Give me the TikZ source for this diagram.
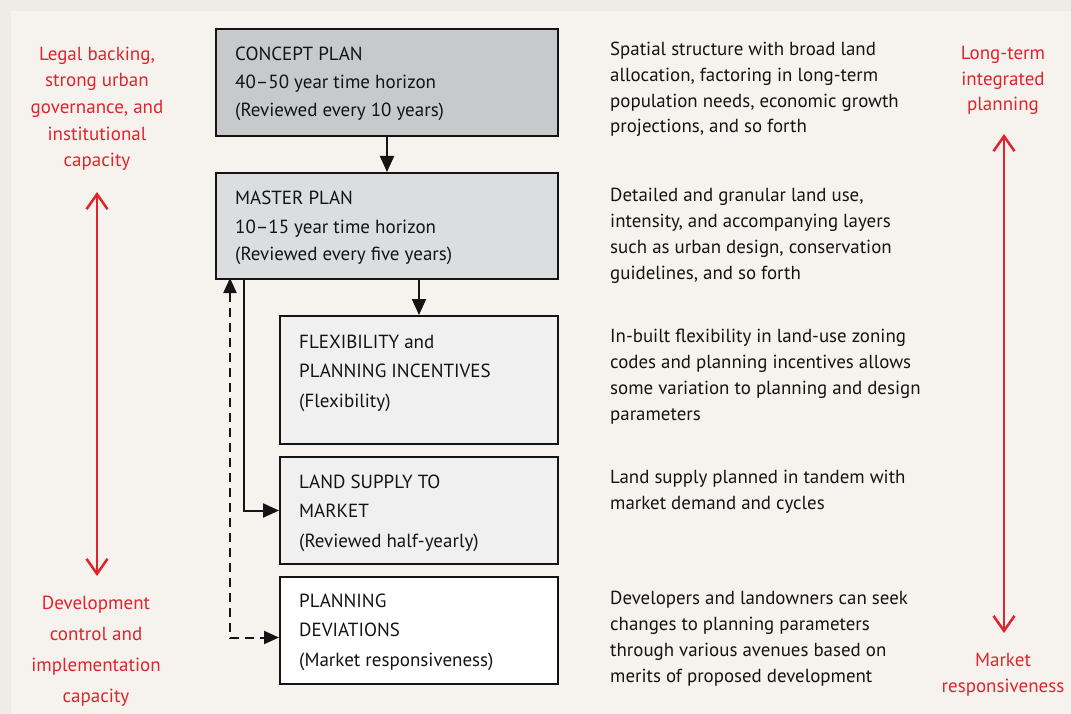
\documentclass[tikz,border=0pt]{standalone}
\usepackage{fontspec}
\setmainfont{PT Sans}
\usetikzlibrary{arrows.meta}
\definecolor{bgout}{HTML}{EFEBE7}
\definecolor{bgin}{HTML}{F6F3EF}
\definecolor{redc}{HTML}{E1232B}
\definecolor{txt}{HTML}{141414}
\definecolor{fillA}{HTML}{C8C9CB}
\definecolor{fillB}{HTML}{DCDDDF}
\definecolor{fillC}{HTML}{F0F0F0}
\begin{document}
\begin{tikzpicture}[x=1pt,y=-1pt,
  box/.style={draw=txt, line width=2pt, inner sep=0pt, anchor=north west},
  boxtext/.style={anchor=base west, align=left, inner sep=0pt, text=txt, font=\fontsize{19}{28}\selectfont},
  boxtextb/.style={boxtext, font=\fontsize{19}{29.5}\selectfont},
  desc/.style={anchor=base west, align=left, inner sep=0pt, text=txt, font=\fontsize{18.9}{25.7}\selectfont},
  redtext/.style={anchor=base, align=center, inner sep=0pt, text=redc, font=\fontsize{19}{26.7}\selectfont},
  conn/.style={draw=txt, line width=2pt, -{Triangle[length=16pt,width=14pt]}},
  dconn/.style={draw=txt, line width=2pt, dash pattern=on 9pt off 6pt, {Triangle[length=15pt,width=13pt]}-{Triangle[length=15pt,width=13pt]}},
  redarr/.style={draw=redc, line width=2.5pt, {Straight Barb[length=15pt,width=21pt]}-{Straight Barb[length=15pt,width=21pt]}}
]
\fill[bgout] (0,0) rectangle (1071,714);
\fill[bgin] (11,11) rectangle (1071,714);
\useasboundingbox (0,0) rectangle (1071,714);

% boxes
\node[box, fill=fillA, minimum width=342pt, minimum height=107pt] (concept) at (215,28) {};
\node[box, fill=fillB, minimum width=342pt, minimum height=106pt] (master) at (215,172) {};
\node[box, fill=fillC, minimum width=278pt, minimum height=128pt] (flex) at (279,315) {};
\node[box, fill=fillC, minimum width=278pt, minimum height=107pt] (land) at (279,456) {};
\node[box, fill=white, minimum width=278pt, minimum height=107pt] (dev) at (279,576) {};

% box texts (anchored at the baseline of the last line)
\node[boxtext] (conceptT) at (235,117) {CONCEPT PLAN\\40--50 year time horizon\\(Reviewed every 10 years)};
\node[boxtext] (masterT) at (235,261) {MASTER PLAN\\10--15 year time horizon\\(Reviewed every five years)};
\node[boxtextb] (flexT) at (299,407) {FLEXIBILITY and\\PLANNING INCENTIVES\\(Flexibility)};
\node[boxtextb] (landT) at (299,547) {LAND SUPPLY TO\\MARKET\\(Reviewed half-yearly)};
\node[boxtextb] (devT) at (299,666) {PLANNING\\DEVIATIONS\\(Market responsiveness)};

% descriptions
\node[desc] (d1) at (610,133) {Spatial structure with broad land\\allocation, factoring in long-term\\population needs, economic growth\\projections, and so forth};
\node[desc] (d2) at (610,279) {Detailed and granular land use,\\intensity, and accompanying layers\\such as urban design, conservation\\guidelines, and so forth};
\node[desc] (d3) at (610,420) {In-built flexibility in land-use zoning\\codes and planning incentives allows\\some variation to planning and design\\parameters};
\node[desc] (d4) at (610,509) {Land supply planned in tandem with\\market demand and cycles};
\node[desc] (d5) at (610,682) {Developers and landowners can seek\\changes to planning parameters\\through various avenues based on\\merits of proposed development};

% red side texts
\node[redtext] (legal) at (97,167) {Legal backing,\\strong urban\\governance, and\\institutional\\capacity};
\node[redtext, font=\fontsize{19}{31}\selectfont] (devctl) at (96,702) {Development\\control and\\implementation\\capacity};
\node[redtext, font=\fontsize{19}{25.5}\selectfont] (longterm) at (1003,111) {Long-term\\integrated\\planning};
\node[redtext, font=\fontsize{19}{25.5}\selectfont] (mktresp) at (1003,692) {Market\\responsiveness};

% connectors
\draw[conn] (concept.south) -- (master.north);
\draw[conn] (master.south -| flex.north) -- (flex.north);
\coordinate (solidstart) at (244,278);
\draw[conn] (solidstart) |- (land.west);
\coordinate (dashtop) at (230,278);
\draw[dconn] (dashtop) |- ([yshift=-7pt]dev.west);

% red arrows
\coordinate (lTop) at (97,192);
\coordinate (lBot) at (97,576);
\draw[redarr] (lTop) -- (lBot);
\coordinate (rTop) at (1004,134);
\coordinate (rBot) at (1004,633);
\draw[redarr] (rTop) -- (rBot);
\end{tikzpicture}
\end{document}
